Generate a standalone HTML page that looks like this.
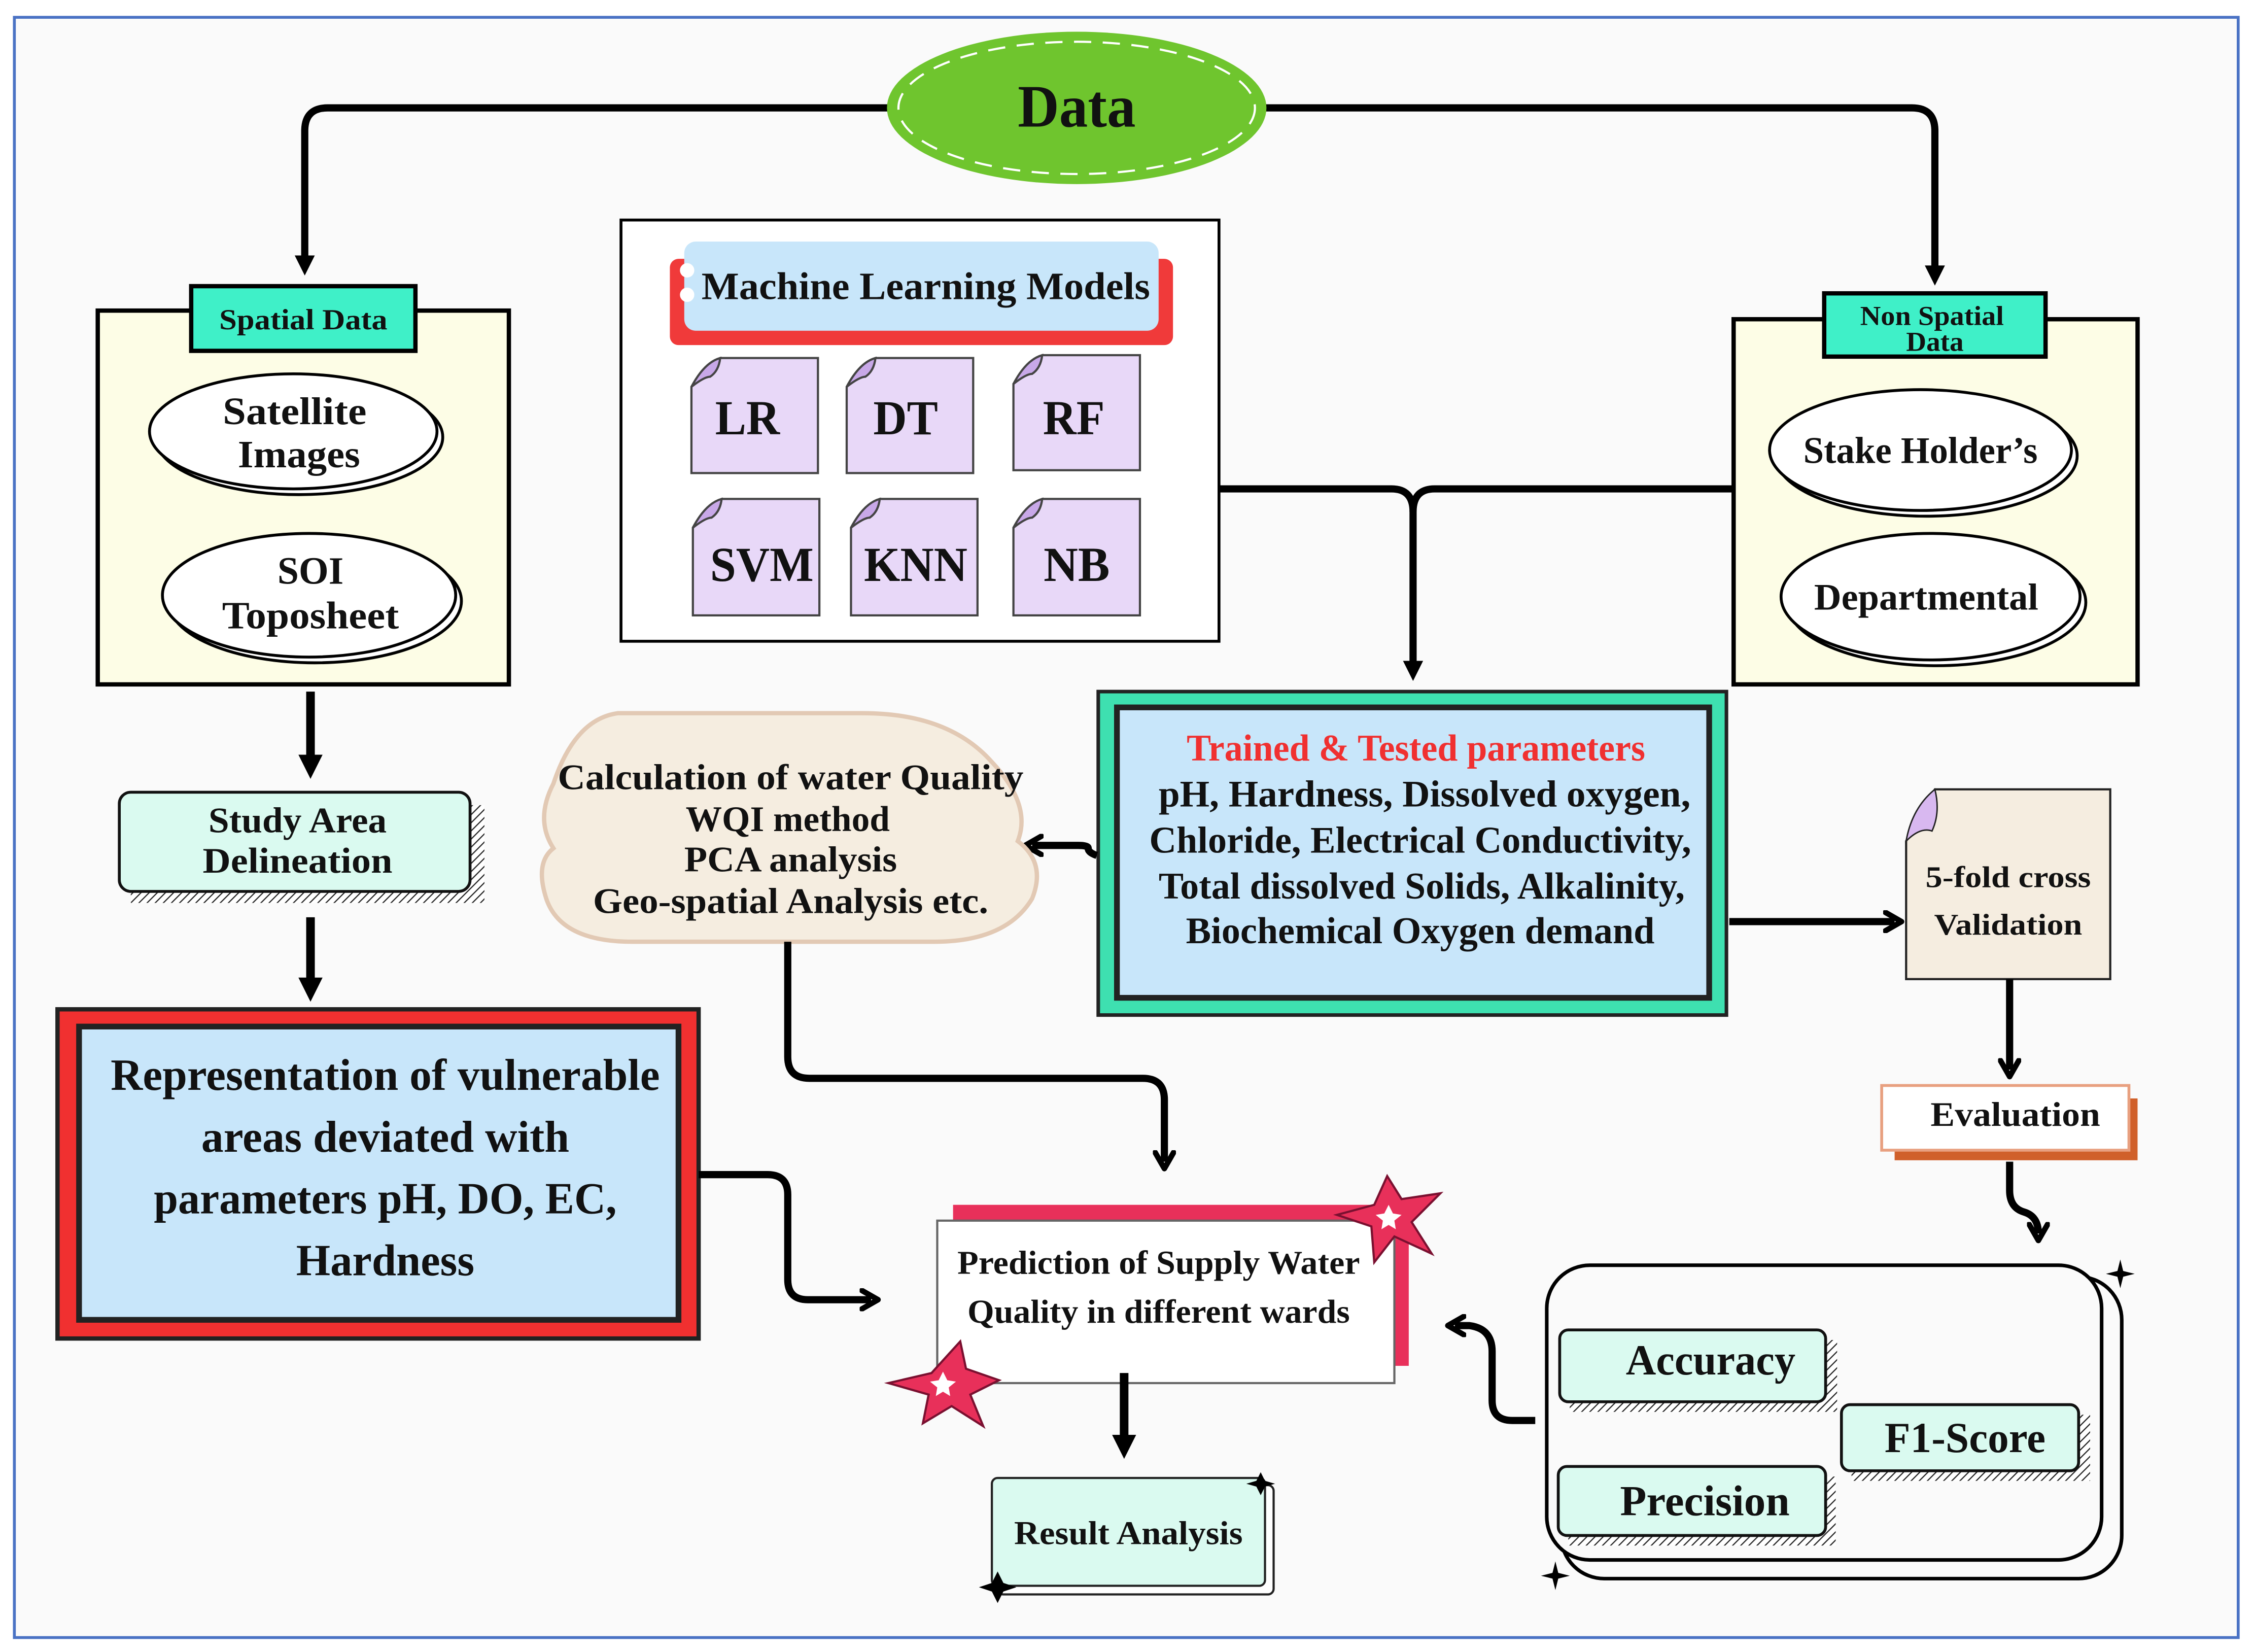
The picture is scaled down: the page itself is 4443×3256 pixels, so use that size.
<!DOCTYPE html>
<html><head><meta charset="utf-8"><style>
html,body{margin:0;padding:0;background:#fff;}
svg{display:block;}
text{font-family:"Liberation Serif",serif;font-weight:bold;fill:#111;}
</style></head><body>
<svg width="4443" height="3256" viewBox="0 0 1568 1149" xmlns="http://www.w3.org/2000/svg">
<defs>
<marker id="ah" viewBox="0 0 10 10" refX="5" refY="5" markerWidth="3.2" markerHeight="3.2" orient="auto-start-reverse" markerUnits="strokeWidth">
<path d="M1,1 L8,5 L1,9" fill="none" stroke="#000" stroke-width="2.4" stroke-linecap="round" stroke-linejoin="round"/>
</marker>
<marker id="tri" viewBox="0 0 10 10" refX="6" refY="5" markerWidth="2.8" markerHeight="2.8" orient="auto" markerUnits="strokeWidth">
<path d="M0,0 L10,5 L0,10 Z" fill="#000"/>
</marker>
<pattern id="hatch" width="4" height="4" patternUnits="userSpaceOnUse" patternTransform="rotate(45)">
<rect width="4" height="4" fill="#fff"/><line x1="0" y1="0" x2="0" y2="4" stroke="#222" stroke-width="1.6"/>
</pattern>
</defs>
<rect x="0" y="0" width="1568" height="1149" fill="#fff"/>
<rect x="10" y="12" width="1547" height="1127" fill="#fafafa" stroke="#4a72c4" stroke-width="2"/>

<!-- top connectors -->
<g fill="none" stroke="#000" stroke-width="5" stroke-linejoin="round">
<path d="M620,75 H228 Q212,75 212,91 V186" marker-end="url(#tri)"/>
<path d="M880,75 H1330 Q1346,75 1346,91 V193" marker-end="url(#tri)"/>
</g>
<!-- Data ellipse -->
<ellipse cx="749" cy="75" rx="132" ry="53" fill="#6fc52e"/>
<ellipse cx="749" cy="75" rx="124" ry="46" fill="none" stroke="#fff" stroke-width="1.5" stroke-dasharray="12 8"/>
<text x="749" y="88" font-size="42" text-anchor="middle" textLength="82" lengthAdjust="spacingAndGlyphs">Data</text>

<!-- Spatial Data box -->
<rect x="68" y="216" width="286" height="260" fill="#fdfde6" stroke="#000" stroke-width="3"/>
<rect x="133" y="199" width="156" height="45" fill="#3ff0c8" stroke="#000" stroke-width="3"/>
<text x="211" y="229" font-size="20" text-anchor="middle" textLength="117" lengthAdjust="spacingAndGlyphs">Spatial Data</text>
<g stroke="#000" stroke-width="2">
<ellipse cx="208" cy="304" rx="100" ry="40" fill="#fff"/>
<ellipse cx="204" cy="300" rx="100" ry="40" fill="#fff"/>
<ellipse cx="219" cy="418" rx="102" ry="43" fill="#fff"/>
<ellipse cx="215" cy="414" rx="102" ry="43" fill="#fff"/>
</g>
<text x="205" y="295" font-size="27" text-anchor="middle" textLength="100" lengthAdjust="spacingAndGlyphs">Satellite</text>
<text x="208" y="325" font-size="27" text-anchor="middle" textLength="85" lengthAdjust="spacingAndGlyphs">Images</text>
<text x="216" y="406" font-size="27" text-anchor="middle" textLength="46" lengthAdjust="spacingAndGlyphs">SOI</text>
<text x="216" y="437" font-size="27" text-anchor="middle" textLength="123" lengthAdjust="spacingAndGlyphs">Toposheet</text>

<!-- Non spatial -->
<rect x="1206" y="222" width="281" height="254" fill="#fdfde6" stroke="#000" stroke-width="3"/>
<rect x="1269" y="204" width="154" height="44" fill="#3ff0c8" stroke="#000" stroke-width="3"/>
<text x="1344" y="226" font-size="19" text-anchor="middle" textLength="100" lengthAdjust="spacingAndGlyphs">Non Spatial</text>
<text x="1346" y="244" font-size="19" text-anchor="middle" textLength="40" lengthAdjust="spacingAndGlyphs">Data</text>
<g stroke="#000" stroke-width="2">
<ellipse cx="1340" cy="317" rx="105" ry="42" fill="#fff"/>
<ellipse cx="1336" cy="313" rx="105" ry="42" fill="#fff"/>
<ellipse cx="1347" cy="419" rx="104" ry="44" fill="#fff"/>
<ellipse cx="1343" cy="415" rx="104" ry="44" fill="#fff"/>
</g>
<text x="1336" y="322" font-size="26" text-anchor="middle" textLength="163" lengthAdjust="spacingAndGlyphs">Stake Holder’s</text>
<text x="1340" y="424" font-size="26" text-anchor="middle" textLength="156" lengthAdjust="spacingAndGlyphs">Departmental</text>

<!-- ML box -->
<rect x="432" y="153" width="416" height="293" fill="#fff" stroke="#000" stroke-width="2"/>
<rect x="466" y="180" width="350" height="60" rx="6" fill="#f03a3a"/>
<rect x="476" y="168" width="330" height="62" rx="8" fill="#c8e6fa"/>
<circle cx="478" cy="188" r="5" fill="#fff"/><circle cx="478" cy="205" r="5" fill="#fff"/>
<text x="644" y="208" font-size="27" text-anchor="middle" textLength="312" lengthAdjust="spacingAndGlyphs">Machine Learning Models</text>
<g fill="#e8d8f8" stroke="#444" stroke-width="1.5">
<path d="M501,249 H569 V329 H481 V269 Z"/><path d="M481,269 Q490,262 494,262 Q500,258 501,249 Q490,252 481,269" fill="#c8a8e8"/>
<path d="M609,249 H677 V329 H589 V269 Z"/><path d="M589,269 Q598,262 602,262 Q608,258 609,249 Q598,252 589,269" fill="#c8a8e8"/>
<path d="M725,247 H793 V327 H705 V267 Z"/><path d="M705,267 Q714,260 718,260 Q724,256 725,247 Q714,250 705,267" fill="#c8a8e8"/>
<path d="M502,347 H570 V428 H482 V367 Z"/><path d="M482,367 Q491,360 495,360 Q501,356 502,347 Q491,350 482,367" fill="#c8a8e8"/>
<path d="M612,347 H680 V428 H592 V367 Z"/><path d="M592,367 Q601,360 605,360 Q611,356 612,347 Q601,350 592,367" fill="#c8a8e8"/>
<path d="M725,347 H793 V428 H705 V367 Z"/><path d="M705,367 Q714,360 718,360 Q724,356 725,347 Q714,350 705,367" fill="#c8a8e8"/>
</g>
<g font-size="34" text-anchor="middle">
<text x="520" y="302" textLength="45" lengthAdjust="spacingAndGlyphs">LR</text>
<text x="630" y="302" textLength="45" lengthAdjust="spacingAndGlyphs">DT</text>
<text x="747" y="302" textLength="43" lengthAdjust="spacingAndGlyphs">RF</text>
<text x="530" y="404" textLength="72" lengthAdjust="spacingAndGlyphs">SVM</text>
<text x="637" y="404" textLength="72" lengthAdjust="spacingAndGlyphs">KNN</text>
<text x="749" y="404" textLength="46" lengthAdjust="spacingAndGlyphs">NB</text>
</g>

<!-- merge connector -->
<g fill="none" stroke="#000" stroke-width="5" stroke-linejoin="round">
<path d="M848,340 H968 Q983,340 983,356"/>
<path d="M1206,340 H998 Q983,340 983,356 V468" marker-end="url(#tri)"/>
</g>

<!-- Trained box -->
<rect x="764" y="481" width="437" height="225" fill="#3ee0b0" stroke="#222" stroke-width="2.5"/>
<rect x="777" y="492" width="412" height="202" fill="#c8e6fa" stroke="#222" stroke-width="4"/>
<text x="985" y="529" font-size="26" text-anchor="middle" fill="#f03030" style="fill:#f03030" textLength="319" lengthAdjust="spacingAndGlyphs">Trained &amp; Tested parameters</text>
<g font-size="26" text-anchor="middle">
<text x="991" y="561" textLength="370" lengthAdjust="spacingAndGlyphs">pH, Hardness, Dissolved oxygen,</text>
<text x="988" y="593" textLength="377" lengthAdjust="spacingAndGlyphs">Chloride, Electrical Conductivity,</text>
<text x="989" y="625" textLength="366" lengthAdjust="spacingAndGlyphs">Total dissolved Solids, Alkalinity,</text>
<text x="988" y="656" textLength="326" lengthAdjust="spacingAndGlyphs">Biochemical Oxygen demand</text>
</g>
<path d="M763,595 Q757,593 757,590 Q757,588 750,588 H718" fill="none" stroke="#000" stroke-width="5" marker-end="url(#ah)"/>

<!-- Calc cloud -->
<path d="M430,496 H600 Q660,496 690,530 Q718,560 708,585 Q728,600 718,625 Q700,655 650,655 H440 Q390,655 380,625 Q372,600 385,590 Q372,570 385,545 Q400,500 430,496 Z" fill="#f5ede0" stroke="#e2c9b4" stroke-width="3"/>
<g font-size="25" text-anchor="middle">
<text x="550" y="549" textLength="324" lengthAdjust="spacingAndGlyphs">Calculation of  water Quality</text>
<text x="548" y="578" textLength="142" lengthAdjust="spacingAndGlyphs">WQI method</text>
<text x="550" y="606" textLength="148" lengthAdjust="spacingAndGlyphs">PCA analysis</text>
<text x="550" y="635" textLength="275" lengthAdjust="spacingAndGlyphs">Geo-spatial Analysis etc.</text>
</g>
<path d="M548,655 V735 Q548,750 563,750 H795 Q810,750 810,765 V808" fill="none" stroke="#000" stroke-width="5" stroke-linejoin="round" marker-end="url(#ah)"/>

<!-- 5-fold -->
<path d="M1203,641 H1318" fill="none" stroke="#000" stroke-width="5" marker-end="url(#ah)"/>
<path d="M1346,549 H1468 V681 H1326 V585 Z" fill="#f5ede0" stroke="#222" stroke-width="1.5"/>
<path d="M1326,585 Q1336,575 1344,578 Q1350,565 1346,549 Q1330,562 1326,585 Z" fill="#d8b8f0" stroke="#222" stroke-width="1"/>
<text x="1397" y="617" font-size="21" text-anchor="middle" textLength="115" lengthAdjust="spacingAndGlyphs">5-fold cross</text>
<text x="1397" y="650" font-size="21" text-anchor="middle" textLength="103" lengthAdjust="spacingAndGlyphs">Validation</text>
<path d="M1398,681 V744" fill="none" stroke="#000" stroke-width="5" marker-end="url(#ah)"/>

<!-- Evaluation -->
<rect x="1318" y="764" width="169" height="43" fill="#d0602a"/>
<rect x="1309" y="755" width="172" height="45" fill="#fff" stroke="#e8a080" stroke-width="2"/>
<text x="1402" y="783" font-size="24" text-anchor="middle" textLength="118" lengthAdjust="spacingAndGlyphs">Evaluation</text>
<path d="M1398,808 V828 Q1398,840 1408,843 Q1418,846 1418,858" fill="none" stroke="#000" stroke-width="5" marker-end="url(#ah)"/>

<!-- Metrics -->
<rect x="1086" y="888" width="390" height="210" rx="30" fill="none" stroke="#000" stroke-width="2.5"/>
<rect x="1076" y="880" width="386" height="205" rx="30" fill="#fafafa" stroke="#000" stroke-width="2.5"/>
<path d="M1475,876 l2,8 l8,2 l-8,2 l-2,8 l-2,-8 l-8,-2 l8,-2 z" fill="#000"/>
<path d="M1082,1086 l2,8 l8,2 l-8,2 l-2,8 l-2,-8 l-8,-2 l8,-2 z" fill="#000"/>
<g stroke="#111" stroke-width="2">
<rect x="1092" y="932" width="186" height="50" fill="url(#hatch)" stroke="none"/>
<rect x="1085" y="925" width="185" height="50" rx="6" fill="#dafaf0"/>
<rect x="1288" y="984" width="166" height="46" fill="url(#hatch)" stroke="none"/>
<rect x="1281" y="977" width="165" height="46" rx="6" fill="#dafaf0"/>
<rect x="1091" y="1027" width="186" height="48" fill="url(#hatch)" stroke="none"/>
<rect x="1084" y="1020" width="186" height="48" rx="6" fill="#dafaf0"/>
</g>
<text x="1190" y="956" font-size="30" text-anchor="middle" textLength="118" lengthAdjust="spacingAndGlyphs">Accuracy</text>
<text x="1367" y="1010" font-size="30" text-anchor="middle" textLength="112" lengthAdjust="spacingAndGlyphs">F1-Score</text>
<text x="1186" y="1054" font-size="30" text-anchor="middle" textLength="118" lengthAdjust="spacingAndGlyphs">Precision</text>
<path d="M1068,988 H1052 Q1038,988 1038,974 V940 Q1038,924 1022,922 L1012,922" fill="none" stroke="#000" stroke-width="5" marker-end="url(#ah)"/>

<!-- Prediction -->
<rect x="663" y="838" width="317" height="112" fill="#e8305a"/>
<rect x="652" y="849" width="318" height="113" fill="#fff" stroke="#666" stroke-width="1.5"/>
<text x="806" y="886" font-size="23" text-anchor="middle" textLength="280" lengthAdjust="spacingAndGlyphs">Prediction of Supply Water</text>
<text x="806" y="920" font-size="23" text-anchor="middle" textLength="266" lengthAdjust="spacingAndGlyphs">Quality in different wards</text>
<path d="M965,818 L975,834 L1002,830 L982,850 L996,872 L970,860 L956,878 L954,853 L930,845 L956,838 Z" fill="#e8305a" stroke="#7a1030" stroke-width="1.5"/>
<path d="M966,838 l3,6 l6,1 l-5,4 l1,6 l-5,-3 l-5,3 l1,-6 l-5,-4 l6,-1 z" fill="#fff"/>
<path d="M668,933 L672,952 L695,960 L675,970 L684,992 L662,978 L642,990 L646,970 L618,962 L648,955 Z" fill="#e8305a" stroke="#7a1030" stroke-width="1.5"/>
<path d="M656,954 l3,6 l6,1 l-5,4 l1,6 l-5,-3 l-5,3 l1,-6 l-5,-4 l6,-1 z" fill="#fff"/>
<path d="M782,955 V1008" fill="none" stroke="#000" stroke-width="6" marker-end="url(#tri)"/>

<!-- Result Analysis -->
<rect x="694" y="1033" width="192" height="76" rx="4" fill="#fff" stroke="#222" stroke-width="1.5"/>
<rect x="690" y="1028" width="190" height="75" rx="4" fill="#dafaf0" stroke="#222" stroke-width="1.5"/>
<text x="785" y="1074" font-size="23" text-anchor="middle" textLength="159" lengthAdjust="spacingAndGlyphs">Result Analysis</text>
<path d="M877,1024 l3,6 l7,2 l-7,2 l-3,6 l-3,-6 l-7,-2 l7,-2 z" fill="#000"/>
<path d="M694,1093 l4,8 l9,3 l-9,3 l-4,8 l-4,-8 l-9,-3 l9,-3 z" fill="#000"/>

<!-- Left column -->
<path d="M216,481 V535" fill="none" stroke="#000" stroke-width="6" marker-end="url(#tri)"/>
<rect x="91" y="560" width="246" height="68" fill="url(#hatch)"/>
<rect x="83" y="551" width="244" height="69" rx="8" fill="#dafaf0" stroke="#111" stroke-width="2"/>
<text x="207" y="579" font-size="25" text-anchor="middle" textLength="124" lengthAdjust="spacingAndGlyphs">Study Area</text>
<text x="207" y="607" font-size="25" text-anchor="middle" textLength="132" lengthAdjust="spacingAndGlyphs">Delineation</text>
<path d="M216,638 V690" fill="none" stroke="#000" stroke-width="6" marker-end="url(#tri)"/>

<rect x="40" y="702" width="446" height="229" fill="#f03030" stroke="#222" stroke-width="3"/>
<rect x="55" y="714" width="417" height="204" fill="#c8e6fa" stroke="#222" stroke-width="4"/>
<g font-size="31" text-anchor="middle">
<text x="268" y="758" textLength="382" lengthAdjust="spacingAndGlyphs">Representation of vulnerable</text>
<text x="268" y="801" textLength="256" lengthAdjust="spacingAndGlyphs">areas deviated with</text>
<text x="268" y="844" textLength="322" lengthAdjust="spacingAndGlyphs">parameters pH, DO, EC,</text>
<text x="268" y="887" textLength="124" lengthAdjust="spacingAndGlyphs">Hardness</text>
</g>
<path d="M486,817 H534 Q548,817 548,831 V890 Q548,904 562,904 H606" fill="none" stroke="#000" stroke-width="5" stroke-linejoin="round" marker-end="url(#ah)"/>
</svg>
</body></html>
